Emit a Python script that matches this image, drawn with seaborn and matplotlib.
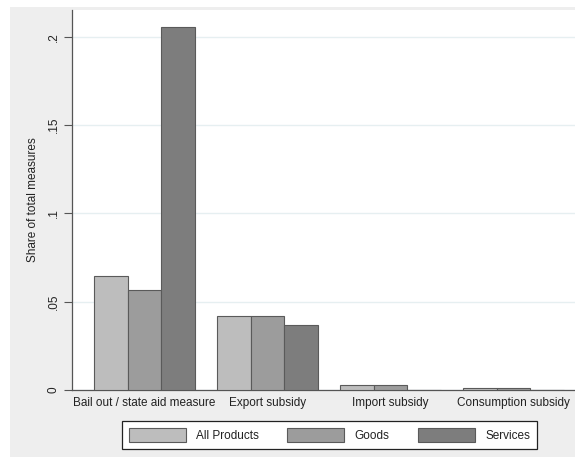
import numpy as np
import pandas as pd
import matplotlib
matplotlib.use('Agg')
import matplotlib.pyplot as plt
from matplotlib.patches import Rectangle
import seaborn as sns

# data
measures = ['Bail out / state aid measure', 'Export subsidy', 'Import subsidy', 'Consumption subsidy']
groups = ['All Products', 'Goods', 'Services']
all_products = [0.0645, 0.0419, 0.0028, 0.0011]
goods = [0.0566, 0.0419, 0.0028, 0.0011]
services = [0.2057, 0.0370, 0.0, 0.0]
y_ticks = [0, 0.05, 0.1, 0.15, 0.2]
y_tick_labels = ['0', '.05', '.1', '.15', '.2']

df = pd.DataFrame({
    'measure': measures * 3,
    'group': [groups[0]] * 4 + [groups[1]] * 4 + [groups[2]] * 4,
    'share': all_products + goods + services,
})

sns.set_theme(style='white')
plt.rcParams['font.family'] = ['Liberation Sans', 'DejaVu Sans']

W, H = 575, 459
fig = plt.figure(figsize=(W / 100, H / 100), dpi=100, facecolor='white')
# grey Stata-like background
fig.patches.append(Rectangle((10 / W, 1 - 457 / H), (W - 10) / W, (457 - 7) / H,
                             transform=fig.transFigure, facecolor='#eeeeee',
                             edgecolor='none', zorder=-5))
ax = fig.add_axes([72 / W, 1 - 390 / H, 1 - 72 / W, (390 - 10) / H])
ax.set_facecolor('white')

palette = {'All Products': '#bdbdbd', 'Goods': '#9c9c9c', 'Services': '#7d7d7d'}
sns.barplot(data=df, x='measure', y='share', hue='group', order=measures,
            hue_order=groups, palette=palette, width=0.82, saturation=1,
            edgecolor='#5a5a5a', linewidth=0.8, ax=ax, zorder=3)

ax.set_xlim(-0.59, 3.5)
ax.set_ylim(0, 0.2151)
ax.set_yticks(y_ticks)
ax.set_yticklabels(y_tick_labels, rotation=90, va='center', fontsize=8.5, color='#222222')
ax.tick_params(axis='y', length=6, width=0.8, color='#555555', pad=3, left=True)
ax.tick_params(axis='x', length=0, pad=5, labelsize=8.5, labelcolor='#222222')
ax.yaxis.grid(True, color='#e6eff1', linewidth=1, zorder=0)
ax.set_axisbelow(True)
for s in ['top', 'right']:
    ax.spines[s].set_visible(False)
for s in ['left', 'bottom']:
    ax.spines[s].set_color('#555555')
    ax.spines[s].set_linewidth(0.9)
ax.set_xlabel('')
ax.set_ylabel('Share of total measures', fontsize=8.5, color='#222222', labelpad=6)

handles, labels = ax.get_legend_handles_labels()
ax.legend_.remove()
leg = fig.legend(handles, labels, loc='center', bbox_to_anchor=(329.5 / W, 1 - 435 / H),
                 ncol=3, frameon=True, fancybox=False, edgecolor='#222222',
                 framealpha=1, fontsize=8.5, handlelength=4.8, handleheight=1.5,
                 handletextpad=0.9, columnspacing=2.4, borderpad=0.6)
leg.get_frame().set_linewidth(0.9)
for t in leg.get_texts():
    t.set_color('#222222')

fig.savefig('out.png', dpi=100, facecolor='white')
